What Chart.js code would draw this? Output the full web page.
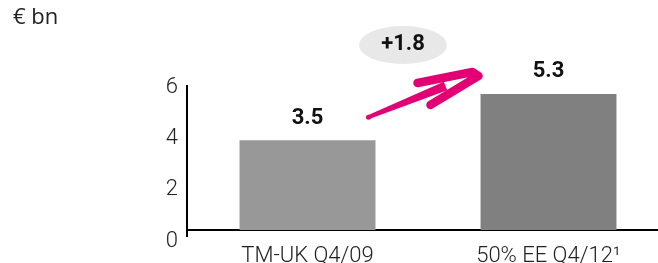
<!DOCTYPE html>
<html>
<head>
<meta charset="utf-8">
<script src="https://cdn.jsdelivr.net/npm/chart.js@4.4.1/dist/chart.umd.min.js"></script>
<style>
  html, body { margin: 0; padding: 0; background: #fff; overflow: hidden; }
  #wrap { position: relative; width: 672px; height: 263px; }
</style>
</head>
<body>
<div id="wrap"><canvas id="chart"></canvas></div>
<script>
const categories = ["TM-UK Q4/09", "50% EE Q4/12\u00B9"];
const values = [3.5, 5.3];
const yTicks = [0, 2, 4, 6];
const changeLabel = "+1.8";
const unitLabel = "€ bn";
const barColors = ["#989898", "#808080"];
const magenta = "#e20074";

// labels, value tags, unit, the grey bubble and the magenta arrow
const overlay = {
  id: "overlay",
  afterDraw(chart) {
    const ctx = chart.ctx;
    const y = chart.scales.y;
    const area = chart.chartArea;
    const bars = chart.getDatasetMeta(0).data;

    ctx.save();
    // y axis line (runs a bit below the x axis like in the slide)
    ctx.strokeStyle = "#000";
    ctx.lineWidth = 2;
    ctx.beginPath();
    ctx.moveTo(area.left, y.getPixelForValue(5.65));
    ctx.lineTo(area.left, area.bottom + 7);
    ctx.stroke();

    // value on top of each bar
    ctx.fillStyle = "#111";
    ctx.font = "bold 22px Roboto";
    ctx.textAlign = "center";
    ctx.textBaseline = "middle";
    bars.forEach((bar, i) => {
      ctx.fillText(values[i].toFixed(1), bar.x, bar.y - 22);
    });

    // unit
    ctx.font = "22px 'Open Sans'";
    ctx.textAlign = "left";
    ctx.fillStyle = "#222";
    ctx.fillText(unitLabel, 13, 18);

    // bubble with the difference
    const b1 = bars[0], b2 = bars[1];
    const cx = (b1.x + b2.x) / 2 - 25;
    const cy = b2.y - 49;
    ctx.fillStyle = "#e8e8e8";
    ctx.beginPath();
    ctx.ellipse(cx, cy, 44, 19, 0, 0, Math.PI * 2);
    ctx.fill();
    ctx.fillStyle = "#111";
    ctx.font = "bold 22px Roboto";
    ctx.textAlign = "center";
    ctx.fillText(changeLabel, cx, cy);

    // magenta arrow, brush-like: shaft thickens toward the head
    const tx = b1.x + 61, ty = b1.y - 23;
    const hx = b2.x - 70, hy = b2.y - 18;
    ctx.strokeStyle = magenta;
    ctx.fillStyle = magenta;
    ctx.lineCap = "round";
    ctx.lineJoin = "round";
    const ex = hx - 33, ey = hy + 10;
    const ang = Math.atan2(ey - ty, ex - tx);
    const nx = -Math.sin(ang), ny = Math.cos(ang);
    ctx.beginPath();
    ctx.moveTo(tx + nx * 2, ty + ny * 2);
    ctx.lineTo(ex + nx * 4.5, ey + ny * 4.5);
    ctx.lineTo(ex - nx * 4.5, ey - ny * 4.5);
    ctx.lineTo(tx - nx * 2, ty - ny * 2);
    ctx.closePath();
    ctx.fill();
    ctx.beginPath();
    ctx.arc(tx, ty, 2.5, 0, Math.PI * 2);
    ctx.fill();
    ctx.lineWidth = 8.5;
    ctx.beginPath();
    ctx.moveTo(hx - 61, hy + 7);
    ctx.lineTo(hx - 6, hy - 4);
    ctx.lineTo(hx, hy);
    ctx.lineTo(hx - 48, hy + 29);
    ctx.stroke();
    ctx.restore();
  },
};

const tickFont = { family: "Roboto", size: 22, weight: 300 };

new Chart(document.getElementById("chart"), {
  type: "bar",
  data: {
    labels: categories,
    datasets: [
      {
        data: values,
        backgroundColor: barColors,
        barPercentage: 0.564,
        categoryPercentage: 1,
      },
    ],
  },
  options: {
    responsive: true,
    maintainAspectRatio: false,
    animation: false,
    layout: { padding: { top: 76, right: 3, left: 0, bottom: 0 } },
    plugins: { legend: { display: false }, tooltip: { enabled: false } },
    scales: {
      x: {
        grid: { display: false, drawTicks: false },
        border: { display: true, color: "#000", width: 2 },
        ticks: { font: tickFont, color: "#222", padding: 13 },
        afterFit: (s) => { s.height = 33; },
      },
      y: {
        min: 0,
        max: 6,
        afterBuildTicks: (s) => { s.ticks = yTicks.map((v) => ({ value: v })); },
        grid: { display: false, drawTicks: false },
        border: { display: false },
        ticks: { font: tickFont, color: "#222", padding: 9, labelOffset: 11 },
        afterFit: (s) => { s.width = 187; },
      },
    },
  },
  plugins: [overlay],
});
</script>
</body>
</html>
